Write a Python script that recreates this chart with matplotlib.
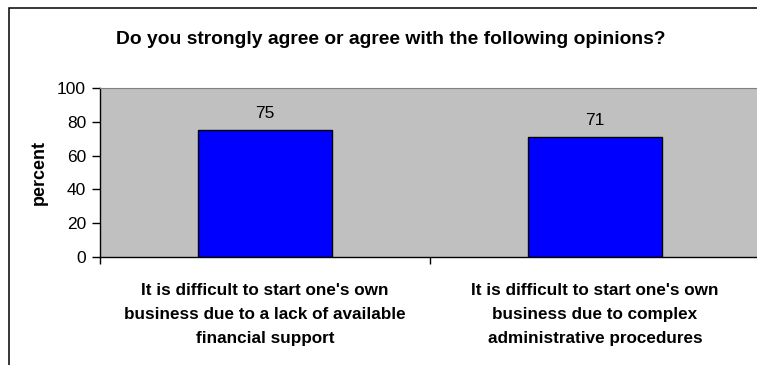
import matplotlib
matplotlib.use("Agg")
import matplotlib.pyplot as plt
from matplotlib.patches import Rectangle

plt.rcParams['font.family'] = ['Liberation Sans', 'DejaVu Sans']

# survey results
categories = ["It is difficult to start one's own\nbusiness due to a lack of available\nfinancial support",
              "It is difficult to start one's own\nbusiness due to complex\nadministrative procedures"]
values = [75, 71]
yticks = [0, 20, 40, 60, 80, 100]

W, H = 757, 365
fig = plt.figure(figsize=(W / 100, H / 100), dpi=100)

# outer chart frame
fig.patches.append(Rectangle((9 / W, -0.1), 1.1, 1 - 8 / H + 0.1, transform=fig.transFigure,
                             fill=False, edgecolor='black', linewidth=1.1))

ax = fig.add_axes([100 / W, 1 - 257 / H, 660 / W, 169 / H])
ax.set_facecolor('#C0C0C0')

x = range(len(values))
bars = ax.bar(x, values, width=0.404, color='#0000FF', edgecolor='black', linewidth=1)
for xi, v in zip(x, values):
    ax.text(xi, v + 5.5, str(v), ha='center', va='bottom', fontsize=12.5)

ax.set_xlim(-0.5, 1.5)
ax.set_ylim(0, 100)
ax.set_yticks(yticks)
ax.tick_params(axis='y', labelsize=12.5, length=6, width=1, direction='out', pad=4)
ax.set_xticks(list(x))
ax.set_xticklabels(categories, fontsize=12.3, fontweight='bold', linespacing=1.72)
ax.tick_params(axis='x', which='major', length=0, pad=19)
ax.set_xticks([-0.5, 0.5, 1.5], minor=True)
ax.tick_params(axis='x', which='minor', length=5, width=1, direction='out')

for side in ['left', 'bottom']:
    ax.spines[side].set_color('black')
    ax.spines[side].set_linewidth(1)
ax.spines['top'].set_color('#808080')
ax.spines['right'].set_visible(False)

ax.set_ylabel('percent', fontsize=13, fontweight='bold', labelpad=7)
fig.text(391 / W, 1 - 39 / H, 'Do you strongly agree or agree with the following opinions?',
         ha='center', va='center', fontsize=13.9, fontweight='bold')

fig.savefig('out.png', dpi=100)
